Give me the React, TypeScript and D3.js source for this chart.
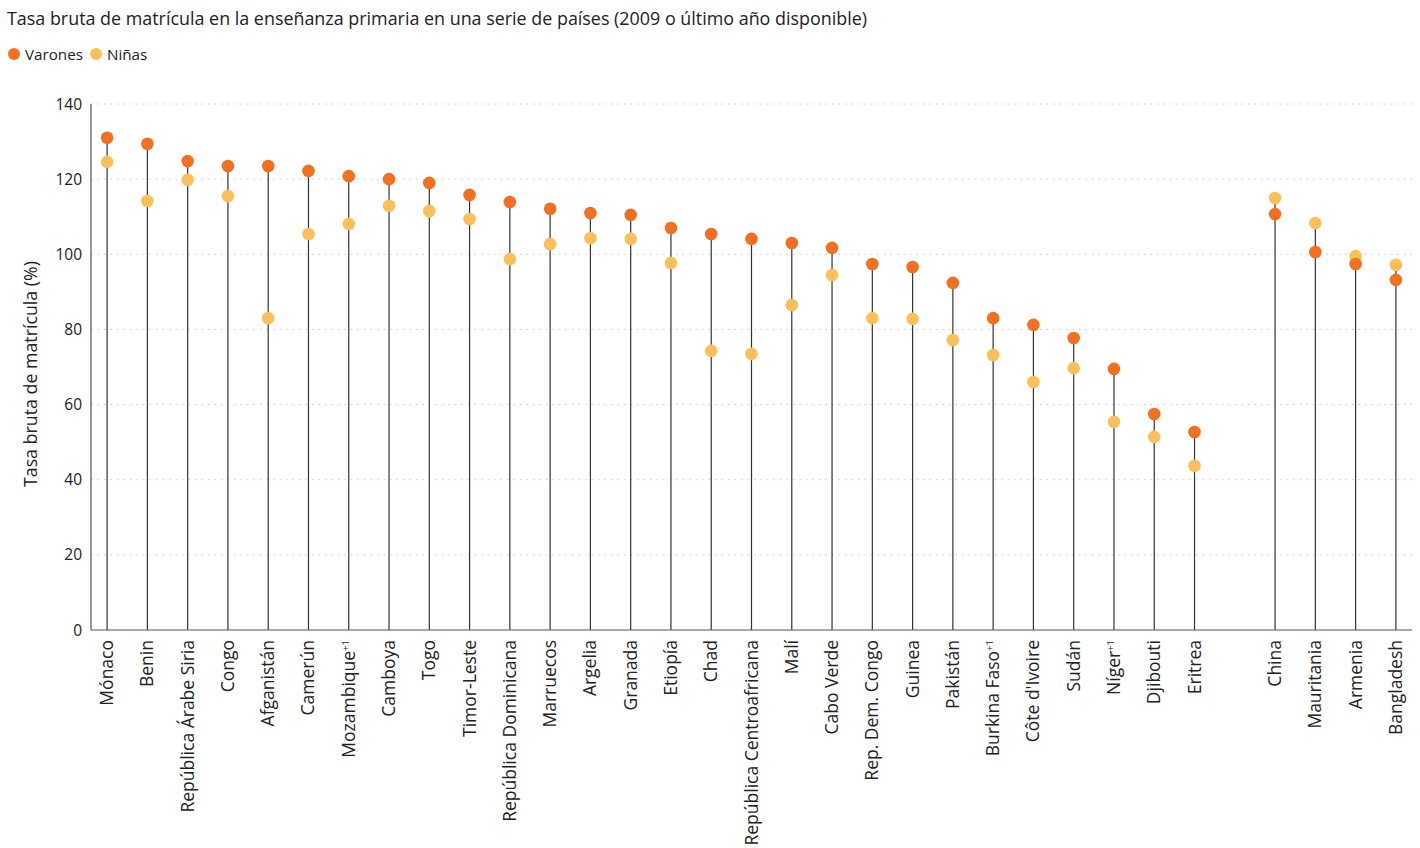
import React from "react";
import * as d3 from "d3";

const countries = [
  "Mónaco", "Benin", "República Árabe Siria", "Congo", "Afganistán", "Camerún", "Mozambique", "Camboya",
  "Togo", "Timor-Leste", "República Dominicana", "Marruecos", "Argelia", "Granada", "Etiopía", "Chad",
  "República Centroafricana", "Malí", "Cabo Verde", "Rep. Dem. Congo", "Guinea", "Pakistán", "Burkina Faso",
  "Côte d'Ivoire", "Sudán", "Níger", "Djibouti", "Eritrea", "", "China", "Mauritania", "Armenia", "Bangladesh",
];
const superscripts: Record<string, string> = { "Mozambique": "+1", "Burkina Faso": "+1", "Níger": "+1" };
const varones = [
  131.0, 129.4, 124.8, 123.5, 123.5, 122.2, 120.8, 120.0, 119.0, 115.8, 113.9, 112.1, 111.0, 110.5, 107.0, 105.4,
  104.1, 103.0, 101.7, 97.4, 96.6, 92.4, 83.0, 81.2, 77.7, 69.5, 57.5, 52.7, NaN, 110.7, 100.6, 97.4, 93.2,
];
const ninas = [
  124.6, 114.2, 119.8, 115.5, 83.0, 105.4, 108.1, 112.9, 111.5, 109.4, 98.7, 102.7, 104.3, 104.1, 97.7, 74.3,
  73.5, 86.5, 94.5, 83.0, 82.8, 77.2, 73.2, 66.0, 69.7, 55.4, 51.4, 43.7, NaN, 115.0, 108.3, 99.5, 97.2,
];
const yTicks = [0, 20, 40, 60, 80, 100, 120, 140];

const W = 1420, H = 848;
const FONT = "'Open Sans', 'Noto Sans', sans-serif";
const C_BOYS = "#F37021";
const C_GIRLS = "#FDBF5A";

export default function App() {
  const keys = countries.map((c, i) => c || `gap${i}`);
  const x = d3.scalePoint<string>().domain(keys).range([91, 1412]).padding(0.4);
  const y = d3.scaleLinear().domain([0, 140]).range([630, 104]);

  return (
    <svg width={W} height={H} style={{ position: "absolute", left: 0, top: 0, background: "#fff" }} fontFamily={FONT}>
      <text x={7} y={25} fontSize={17.9} fill="#222">
        Tasa bruta de matrícula en la enseñanza primaria en una serie de países (2009 o último año disponible)
      </text>
      <circle cx={14} cy={54} r={6} fill={C_BOYS} />
      <text x={25} y={59.5} fontSize={15.2} fill="#222">Varones</text>
      <circle cx={96} cy={54} r={6} fill={C_GIRLS} />
      <text x={107} y={59.5} fontSize={15.2} fill="#222">Niñas</text>

      {yTicks.filter((t) => t > 0).map((t) => (
        <line key={"g" + t} x1={91} x2={1412} y1={y(t)} y2={y(t)} stroke="#c8c8c8" strokeWidth={1} strokeDasharray="1.5 5" />
      ))}
      {yTicks.map((t) => (
        <text key={"t" + t} x={82} y={y(t) + 5.5} fontSize={15.5} textAnchor="end" fill="#222">{t}</text>
      ))}
      <text transform={`translate(37,374) rotate(-90)`} fontSize={17.8} textAnchor="middle" fill="#222">
        Tasa bruta de matrícula (%)
      </text>

      {countries.map((c, i) => {
        if (!c) return null;
        const cx = x(keys[i])!;
        const top = Math.max(varones[i], ninas[i]);
        return (
          <g key={c}>
            <line x1={cx} x2={cx} y1={y(0)} y2={y(top)} stroke="#333" strokeWidth={1.2} />
            <circle cx={cx} cy={y(ninas[i])} r={6.3} fill={C_GIRLS} />
            <circle cx={cx} cy={y(varones[i])} r={6.3} fill={C_BOYS} />
            <text transform={`translate(${cx + 6},640) rotate(-90)`} fontSize={17.5} textAnchor="end" fill="#222">
              {c}
              {superscripts[c] ? <tspan fontSize={9.5} dy={-6}>{superscripts[c]}</tspan> : null}
            </text>
          </g>
        );
      })}

      <line x1={91} x2={91} y1={104} y2={630} stroke="#555" strokeWidth={1.2} />
      <line x1={91} x2={1412} y1={630} y2={630} stroke="#555" strokeWidth={1.2} />
    </svg>
  );
}
